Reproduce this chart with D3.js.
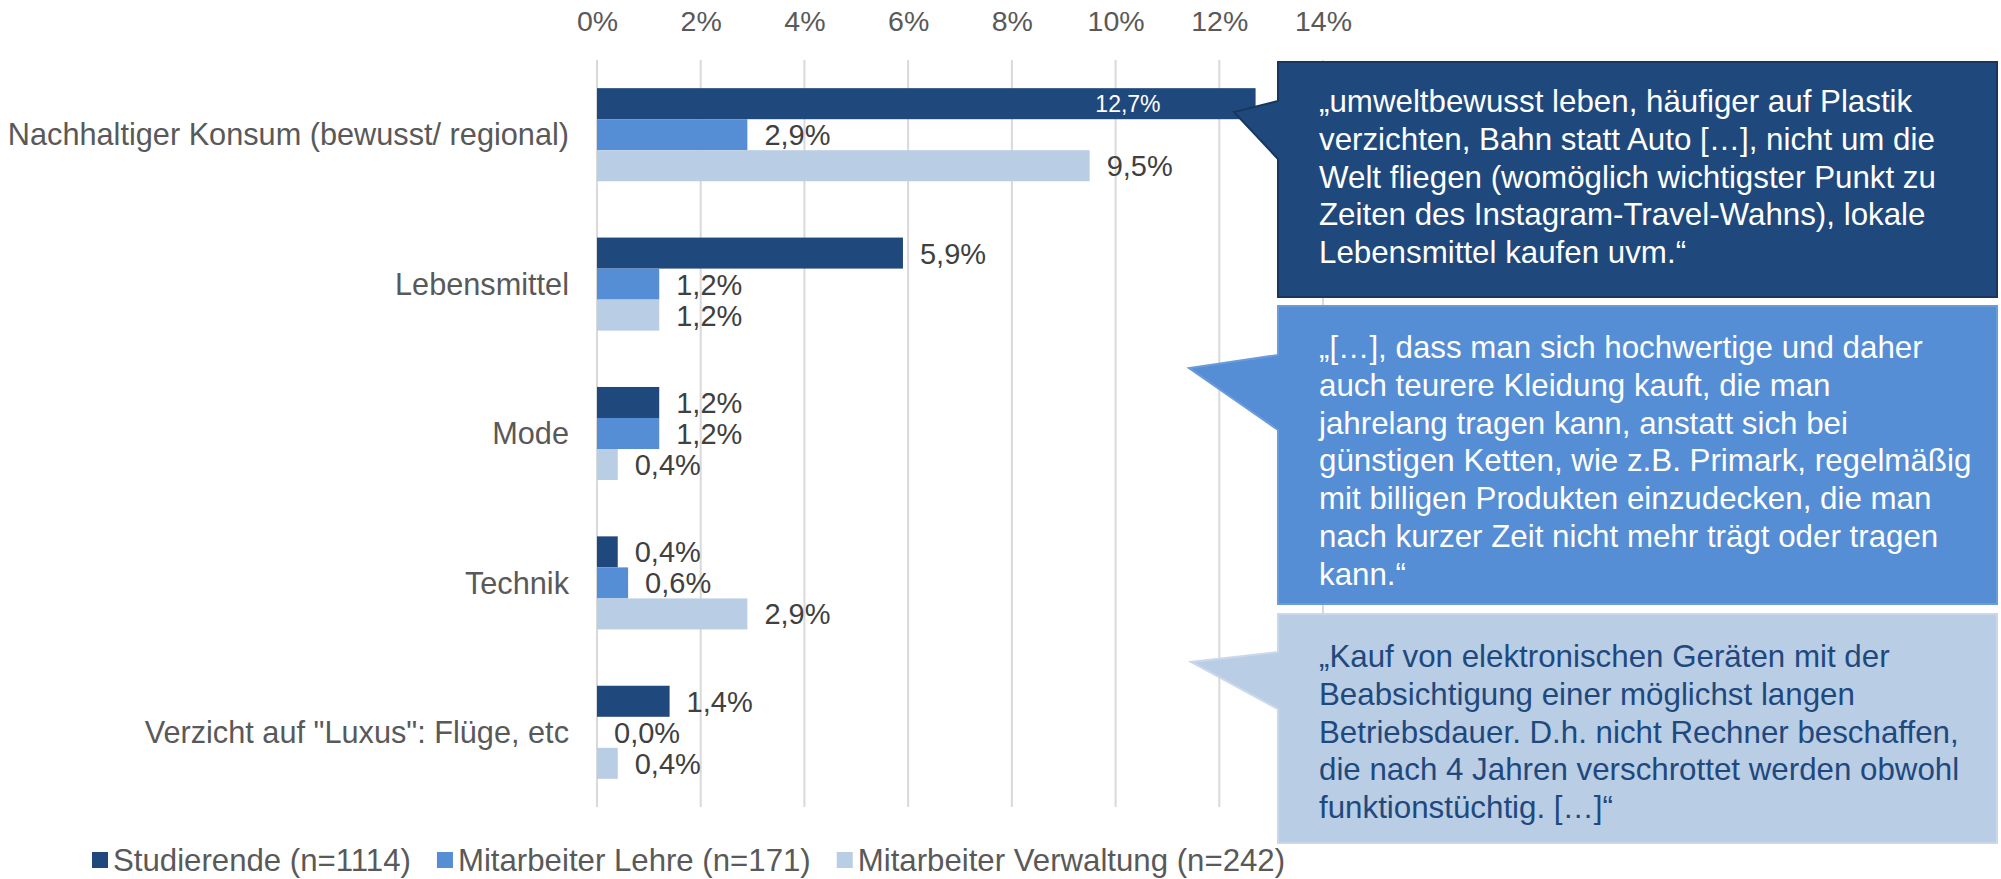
<!DOCTYPE html>
<html>
<head>
<meta charset="utf-8">
<script src="https://cdn.jsdelivr.net/npm/d3@7"></script>
<style>
  body { margin: 0; background: #fff; }
  svg text { font-family: "Liberation Sans", Arial, sans-serif; }
</style>
</head>
<body>
<div id="chart"></div>
<script>
// data (values in %)
var categories = ["Nachhaltiger Konsum (bewusst/ regional)", "Lebensmittel", "Mode", "Technik", "Verzicht auf \"Luxus\": Flüge, etc"];
var studierende = [12.7, 5.9, 1.2, 0.4, 1.4];
var lehre = [2.9, 1.2, 1.2, 0.6, 0.0];
var verwaltung = [9.5, 1.2, 0.4, 2.9, 0.4];
var seriesNames = ["Studierende (n=1114)", "Mitarbeiter Lehre (n=171)", "Mitarbeiter Verwaltung (n=242)"];
var tickValues = [0, 2, 4, 6, 8, 10, 12, 14];

var quote1 = ["„umweltbewusst leben, häufiger auf Plastik", "verzichten, Bahn statt Auto […], nicht um die", "Welt fliegen (womöglich wichtigster Punkt zu", "Zeiten des Instagram-Travel-Wahns), lokale", "Lebensmittel kaufen uvm.“"];
var quote2 = ["„[…], dass man sich hochwertige und daher", "auch teurere Kleidung kauft, die man", "jahrelang tragen kann, anstatt sich bei", "günstigen Ketten, wie z.B. Primark, regelmäßig", "mit billigen Produkten einzudecken, die man", "nach kurzer Zeit nicht mehr trägt oder tragen", "kann.“"];
var quote3 = ["„Kauf von elektronischen Geräten mit der", "Beabsichtigung einer möglichst langen", "Betriebsdauer. D.h. nicht Rechner beschaffen,", "die nach 4 Jahren verschrottet werden obwohl", "funktionstüchtig. […]“"];

var colors = ["#1f497d", "#558ed5", "#b9cde5"];

var width = 2001, height = 879;
var plot = {left: 597, right: 1323, top: 60, bottom: 807};

var de = d3.formatLocale({decimal: ",", thousands: ".", grouping: [3], currency: ["", " €"]});
var fmt = function(v) { return de.format(".1f")(v) + "%"; };

var svg = d3.select("#chart").append("svg")
  .attr("width", width)
  .attr("height", height);

var x = d3.scaleLinear().domain([0, 14]).range([plot.left, plot.right]);
var y = d3.scaleBand().domain(categories).range([plot.top, plot.bottom])
  .paddingInner(0.377).paddingOuter(0.1885);
var ySub = d3.scaleBand().domain([0, 1, 2]).range([0, y.bandwidth()]);

// gridlines
svg.append("g").selectAll("line")
  .data(tickValues)
  .enter().append("line")
    .attr("x1", function(d) { return x(d); })
    .attr("x2", function(d) { return x(d); })
    .attr("y1", plot.top)
    .attr("y2", plot.bottom)
    .attr("stroke", "#d9d9d9")
    .attr("stroke-width", 2);

// top axis labels
var axis = svg.append("g")
  .attr("transform", "translate(0,21)")
  .call(d3.axisTop(x).tickValues(tickValues).tickSize(0).tickPadding(0).tickFormat(function(d) { return d + "%"; }));
axis.select(".domain").remove();
axis.selectAll("text")
  .attr("dy", "0.35em")
  .style("font-family", "Liberation Sans, Arial, sans-serif")
  .style("font-size", "28.5px")
  .attr("fill", "#595959");

// category labels
svg.append("g").selectAll("text")
  .data(categories)
  .enter().append("text")
    .attr("x", 569)
    .attr("y", function(d) { return y(d) + y.bandwidth() / 2; })
    .attr("dy", "0.35em")
    .attr("text-anchor", "end")
    .attr("font-size", "30.7px")
    .attr("fill", "#595959")
    .text(function(d) { return d; });

// bars
var series = [studierende, lehre, verwaltung];
series.forEach(function(vals, s) {
  var g = svg.append("g");
  g.selectAll("rect")
    .data(vals)
    .enter().append("rect")
      .attr("x", x(0))
      .attr("y", function(d, i) { return y(categories[i]) + ySub(s); })
      .attr("width", function(d) { return x(d) - x(0); })
      .attr("height", ySub.bandwidth())
      .attr("fill", colors[s]);

  g.selectAll("text")
    .data(vals)
    .enter().append("text")
      .attr("x", function(d) { return d > 12 ? x(d) - 95 : x(d) + 17; })
      .attr("y", function(d, i) { return y(categories[i]) + ySub(s) + ySub.bandwidth() / 2; })
      .attr("dy", "0.36em")
      .attr("text-anchor", function(d) { return d > 12 ? "end" : "start"; })
      .attr("font-size", function(d) { return d > 12 ? "23px" : "29px"; })
      .attr("fill", function(d) { return d > 12 ? "#fff" : "#404040"; })
      .text(fmt);
});

// callouts (layout of the speech boxes)
var callouts = [
  {lines: quote1, top: 62, bottom: 297, join1: 101, join2: 159, tip: [1234, 112], fill: "#1f497d", stroke: "#17375e", text: "#fff", first: 101},
  {lines: quote2, top: 306, bottom: 604, join1: 355, join2: 430, tip: [1189, 368], fill: "#558ed5", stroke: "#6a9bdc", text: "#fff", first: 347},
  {lines: quote3, top: 614, bottom: 843, join1: 652, join2: 709, tip: [1191, 662], fill: "#b9cde5", stroke: "#c9d8eb", text: "#1f497d", first: 656}
];
var boxLeft = 1278, boxRight = 1997, lineH = 37.8;

callouts.forEach(function(c) {
  var p = d3.path();
  p.moveTo(boxLeft, c.top);
  p.lineTo(boxRight, c.top);
  p.lineTo(boxRight, c.bottom);
  p.lineTo(boxLeft, c.bottom);
  p.lineTo(boxLeft, c.join2);
  p.lineTo(c.tip[0], c.tip[1]);
  p.lineTo(boxLeft, c.join1);
  p.closePath();
  svg.append("path")
    .attr("d", p.toString())
    .attr("fill", c.fill)
    .attr("stroke", c.stroke)
    .attr("stroke-width", 2);

  svg.append("g").selectAll("text")
    .data(c.lines)
    .enter().append("text")
      .attr("x", 1319)
      .attr("y", function(d, i) { return c.first + i * lineH; })
      .attr("dy", "0.35em")
      .attr("font-size", "31.3px")
      .attr("fill", c.text)
      .text(function(d) { return d; });
});

// legend
var legend = svg.append("g").attr("transform", "translate(0,860)");
var lx = 92;
seriesNames.forEach(function(name, i) {
  legend.append("rect")
    .attr("x", lx)
    .attr("y", -8)
    .attr("width", 16)
    .attr("height", 16)
    .attr("fill", colors[i]);
  var t = legend.append("text")
    .attr("x", lx + 21)
    .attr("y", 0)
    .attr("dy", "0.35em")
    .attr("font-size", "31.2px")
    .attr("fill", "#595959")
    .text(name);
  lx = lx + 21 + t.node().getComputedTextLength() + 26;
});
</script>
</body>
</html>
